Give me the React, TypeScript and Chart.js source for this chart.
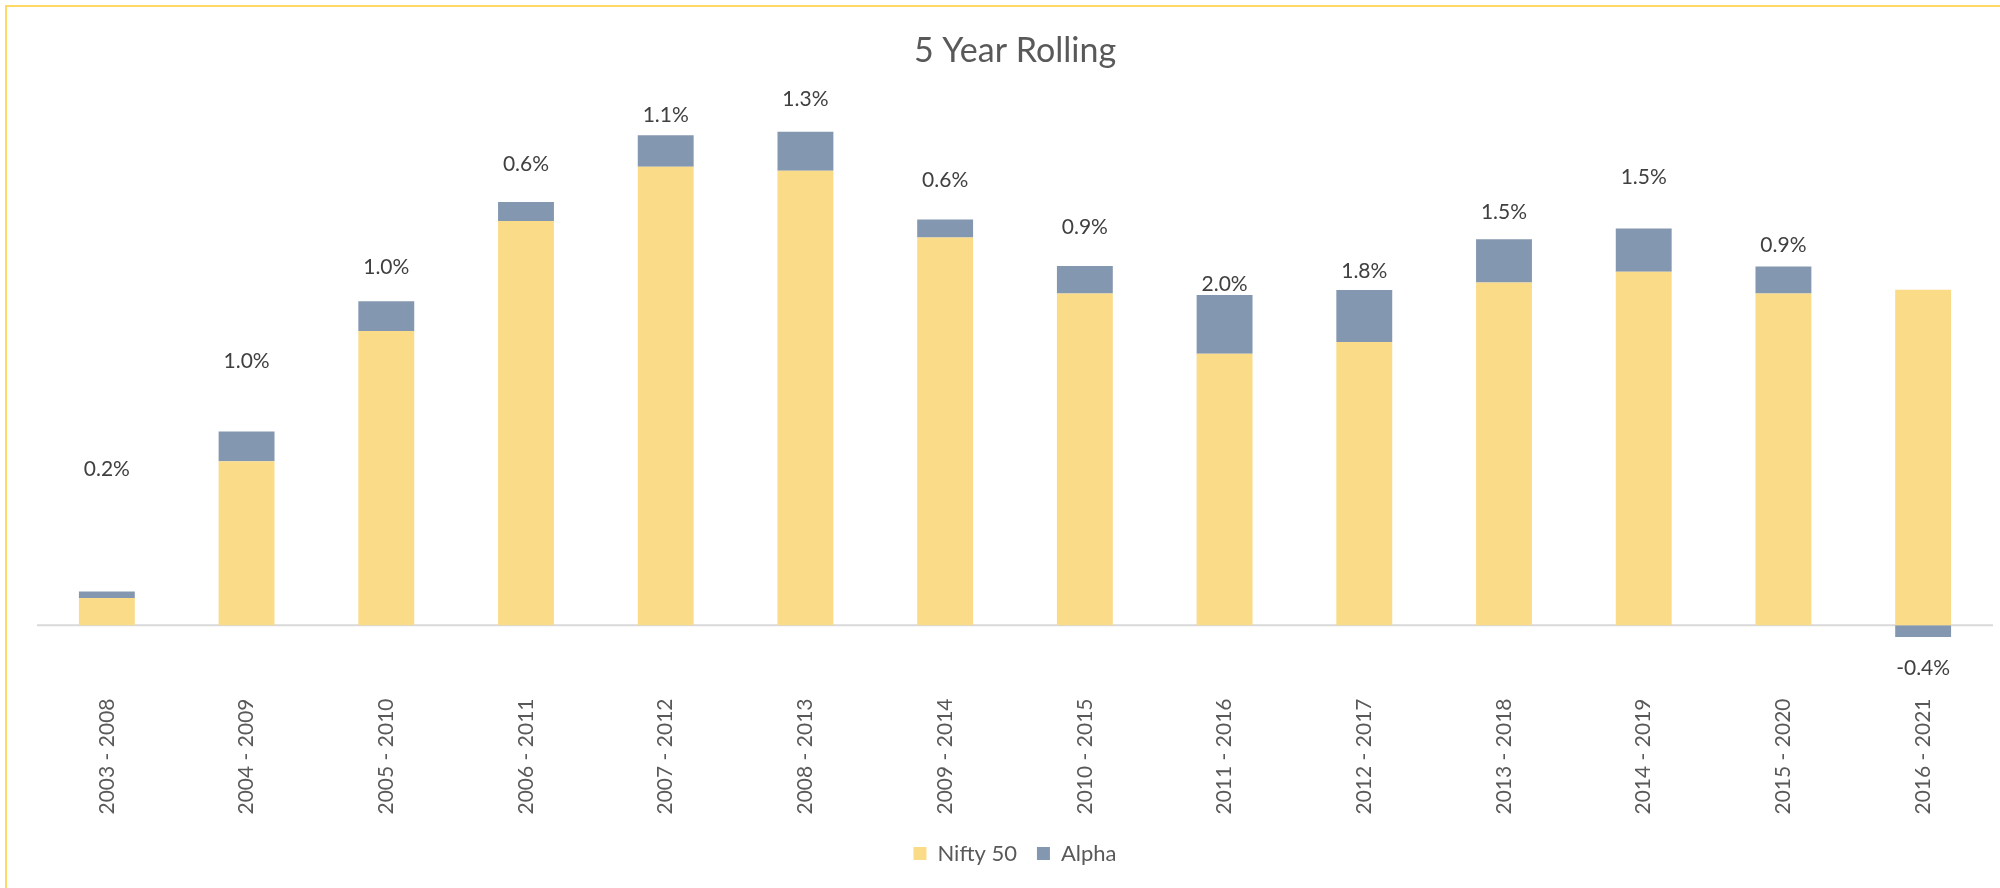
import React, { useEffect, useRef } from "react";
import { Chart, registerables } from "chart.js";

Chart.register(...registerables);

const categories = [
  "2003 - 2008", "2004 - 2009", "2005 - 2010", "2006 - 2011", "2007 - 2012",
  "2008 - 2013", "2009 - 2014", "2010 - 2015", "2011 - 2016", "2012 - 2017",
  "2013 - 2018", "2014 - 2019", "2015 - 2020", "2016 - 2021",
];

const niftyValues = [0.92, 5.54, 9.93, 13.65, 15.48, 15.34, 13.09, 11.2, 9.17, 9.56, 11.57, 11.93, 11.2, 11.33];

const alphaValues = [0.22, 1.0, 1.01, 0.64, 1.06, 1.32, 0.61, 0.93, 1.98, 1.76, 1.46, 1.46, 0.91, -0.39];

// level (in chart units) at which each alpha label sits
const labelLevels = [5.28, 8.92, 12.08, 15.57, 17.21, 17.75, 15.01, 13.45, 11.52, 11.94, 13.95, 15.14, 12.84, -1.45];

const FONT = "Lato, 'Open Sans', sans-serif";

const zeroLinePlugin = {
  id: "zeroLine",
  beforeDatasetsDraw(chart: any) {
    const { ctx, chartArea, scales } = chart;
    const y = scales.y.getPixelForValue(0);
    ctx.save();
    ctx.strokeStyle = "#D9D9D9";
    ctx.lineWidth = 2;
    ctx.beginPath();
    ctx.moveTo(chartArea.left, y);
    ctx.lineTo(chartArea.right, y);
    ctx.stroke();
    ctx.restore();
  },
};

const alphaLabelPlugin = {
  id: "alphaLabels",
  afterDatasetsDraw(chart: any) {
    const { ctx, scales } = chart;
    ctx.save();
    ctx.font = `21px ${FONT}`;
    ctx.fillStyle = "#404040";
    ctx.textAlign = "center";
    ctx.textBaseline = "middle";
    alphaValues.forEach((v, i) => {
      const x = scales.x.getPixelForValue(i);
      const y = scales.y.getPixelForValue(labelLevels[i]);
      ctx.fillText(`${v.toFixed(1)}%`, x, y);
    });
    ctx.restore();
  },
};

export default function App() {
  const canvasRef = useRef<HTMLCanvasElement | null>(null);

  useEffect(() => {
    if (!canvasRef.current) return;
    const chart = new Chart(canvasRef.current, {
      type: "bar",
      data: {
        labels: categories,
        datasets: [
          {
            label: "Nifty 50",
            data: niftyValues,
            backgroundColor: "#FADB88",
            borderWidth: 0,
            categoryPercentage: 0.8,
            barPercentage: 0.5,
          },
          {
            label: "Alpha",
            data: alphaValues,
            backgroundColor: "#8497B0",
            borderWidth: 0,
            categoryPercentage: 0.8,
            barPercentage: 0.5,
          },
        ],
      },
      options: {
        responsive: false,
        animation: false,
        devicePixelRatio: 1,
        layout: { padding: { left: 37, right: 7, top: 0, bottom: 13.5 } },
        scales: {
          x: {
            stacked: true,
            grid: { display: false, drawTicks: false },
            border: { display: false },
            ticks: {
              autoSkip: false,
              minRotation: 90,
              maxRotation: 90,
              padding: 5,
              color: "#595959",
              font: { family: FONT, size: 21 },
            },
            afterFit: (scale: any) => {
              scale.height = 129;
            },
          },
          y: {
            stacked: true,
            display: false,
            min: -2.3,
            max: 18.0,
          },
        },
        plugins: {
          title: {
            display: true,
            text: "5 Year Rolling",
            color: "#595959",
            font: { family: FONT, size: 34, weight: "normal" },
            padding: { top: 30.6, bottom: 20.6 },
          },
          legend: {
            position: "bottom",
            labels: {
              boxWidth: 13,
              boxHeight: 13,
              padding: 20,
              color: "#595959",
              font: { family: FONT, size: 22 },
            },
          },
          tooltip: { enabled: false },
        },
      },
      plugins: [zeroLinePlugin, alphaLabelPlugin],
    });
    return () => chart.destroy();
  }, []);

  return (
    <div
      style={{
        position: "fixed",
        left: 0,
        top: 0,
        width: 2000,
        height: 888,
        overflow: "hidden",
        background: "#FFFFFF",
      }}
    >
      <div
        style={{
          position: "absolute",
          left: 5,
          top: 5,
          width: 2100,
          height: 1000,
          border: "2px solid #FFD966",
          boxSizing: "border-box",
        }}
      />
      <canvas
        ref={canvasRef}
        width={2000}
        height={888}
        style={{ position: "absolute", left: 0, top: 0, display: "block" }}
      />
    </div>
  );
}
